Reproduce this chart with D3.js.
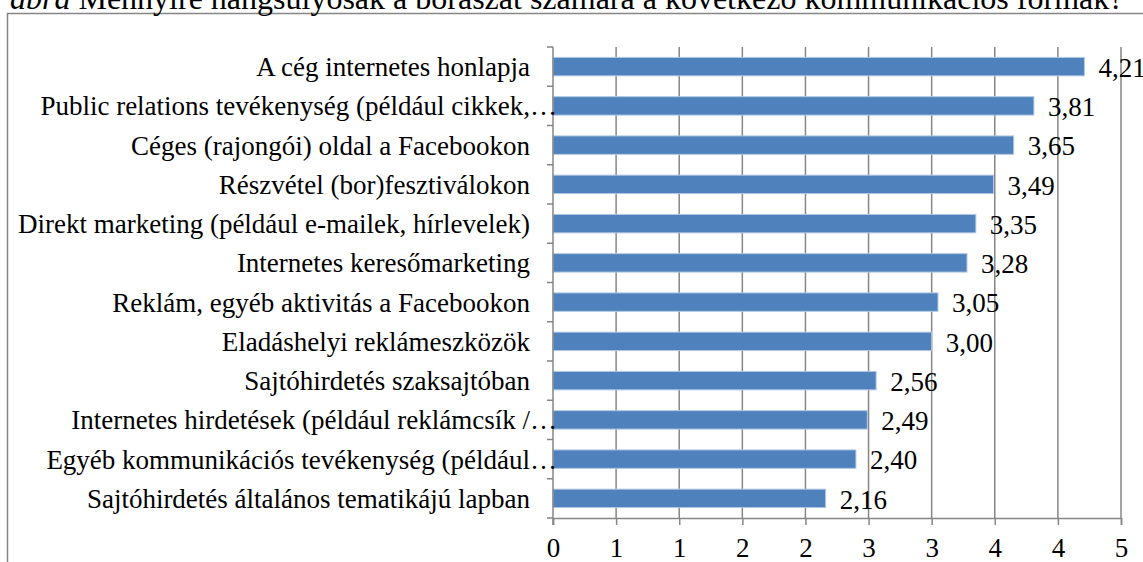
<!DOCTYPE html>
<html>
<head>
<meta charset="utf-8">
<script src="https://cdn.jsdelivr.net/npm/d3@7"></script>
<style>
  body { margin: 0; background: #fff; }
  svg { display: block; font-family: "Liberation Serif", "Times New Roman", serif; }
</style>
</head>
<body>
<svg id="chart" width="1143" height="562"></svg>
<script>
const titleItalic = "ábra"
const titleRest = " Mennyire hangsúlyosak a borászat számára a következő kommunikációs formák?"

const categories = [
  "A cég internetes honlapja",
  "Public relations tevékenység (például cikkek,…",
  "Céges (rajongói) oldal a Facebookon",
  "Részvétel (bor)fesztiválokon",
  "Direkt marketing (például e-mailek, hírlevelek)",
  "Internetes keresőmarketing",
  "Reklám, egyéb aktivitás a Facebookon",
  "Eladáshelyi reklámeszközök",
  "Sajtóhirdetés szaksajtóban",
  "Internetes hirdetések (például reklámcsík /…",
  "Egyéb kommunikációs tevékenység (például…",
  "Sajtóhirdetés általános tematikájú lapban"
]
const values = [4.21, 3.81, 3.65, 3.49, 3.35, 3.28, 3.05, 3.00, 2.56, 2.49, 2.40, 2.16]
const xTicks = [0, 0.5, 1, 1.5, 2, 2.5, 3, 3.5, 4, 4.5]

const data = categories.map((c, i) => ({ cat: c, value: values[i] }))

const svg = d3.select("#chart")
const grey = "#868686"
const fontSize = 27

// outer chart frame (cut off by the picture on the right and bottom)
svg.append("rect")
  .attr("x", 7.5).attr("y", 13.5)
  .attr("width", 1200).attr("height", 600)
  .attr("fill", "none")
  .attr("stroke", grey)
  .attr("stroke-width", 1.5)

// caption above, only its lower part shows
const title = svg.append("text")
  .attr("x", 10)
  .attr("y", 9)
  .attr("font-size", 32)
  .attr("fill", "#000")
title.append("tspan").attr("font-style", "italic").text(titleItalic)
title.append("tspan").text(titleRest)

const margin = { top: 47, bottom: 518, left: 553, right: 1121 }

const x = d3.scaleLinear()
  .domain([0, d3.max(xTicks)])
  .range([margin.left, margin.right])

const y = d3.scaleBand()
  .domain(categories)
  .range([margin.top, margin.bottom])
  .paddingInner(0.53)
  .paddingOuter(0.265)

// vertical gridlines
svg.append("g")
  .selectAll("line")
  .data(xTicks.slice(1))
  .join("line")
  .attr("x1", d => x(d)).attr("x2", d => x(d))
  .attr("y1", margin.top).attr("y2", margin.bottom)
  .attr("stroke", grey)
  .attr("stroke-width", 1.5)

// bars
svg.append("g")
  .selectAll("rect")
  .data(data)
  .join("rect")
  .attr("x", x(0))
  .attr("y", d => y(d.cat))
  .attr("width", d => x(d.value) - x(0))
  .attr("height", y.bandwidth())
  .attr("fill", "#4f81bd")
  .attr("stroke", "#b3c8e3")
  .attr("stroke-width", 1)

// x axis
const xAxis = d3.axisBottom(x)
  .tickValues(xTicks)
  .tickFormat(d3.format(".0f"))
  .tickSizeOuter(0)
  .tickSize(7)
  .tickPadding(13)

svg.append("g")
  .attr("transform", `translate(0, ${margin.bottom})`)
  .call(xAxis)
  .call(g => g.selectAll("path, line").attr("stroke", grey).attr("stroke-width", 1.5))
  .call(g => g.selectAll("text")
    .attr("font-family", "Liberation Serif")
    .attr("font-size", fontSize)
    .attr("fill", "#000"))

// y axis: line plus outward ticks at category boundaries
const yg = svg.append("g")
yg.append("line")
  .attr("x1", x(0)).attr("x2", x(0))
  .attr("y1", margin.top).attr("y2", margin.bottom + 7)
  .attr("stroke", grey).attr("stroke-width", 1.5)

const bounds = categories.map(c => y(c) - y.step() * y.paddingInner() / 2)
bounds.push(margin.bottom)
yg.selectAll("line.tick")
  .data(bounds)
  .join("line")
  .attr("class", "tick")
  .attr("x1", x(0) - 6).attr("x2", x(0))
  .attr("y1", d => d).attr("y2", d => d)
  .attr("stroke", grey).attr("stroke-width", 1.5)

// category labels; truncated ones let the ellipsis run up to the axis
const probe = svg.append("text").attr("font-size", fontSize).text("…")
const ellW = probe.node().getComputedTextLength()
probe.remove()

svg.append("g")
  .selectAll("text")
  .data(data)
  .join("text")
  .attr("x", d => d.cat.endsWith("…") ? 530 + ellW : 530)
  .attr("y", d => y(d.cat) + y.bandwidth() / 2)
  .attr("dy", "0.35em")
  .attr("text-anchor", "end")
  .attr("font-size", fontSize)
  .attr("fill", "#000")
  .text(d => d.cat)

// value labels with decimal comma
const huFormat = d3.formatLocale({ decimal: ",", thousands: " ", grouping: [3], currency: ["", " Ft"] }).format(".2f")

svg.append("g")
  .selectAll("text")
  .data(data)
  .join("text")
  .attr("x", d => x(d.value) + 14)
  .attr("y", d => y(d.cat) + y.bandwidth() / 2)
  .attr("dy", "0.38em")
  .attr("font-size", fontSize)
  .attr("fill", "#000")
  .text(d => huFormat(d.value))
</script>
</body>
</html>
